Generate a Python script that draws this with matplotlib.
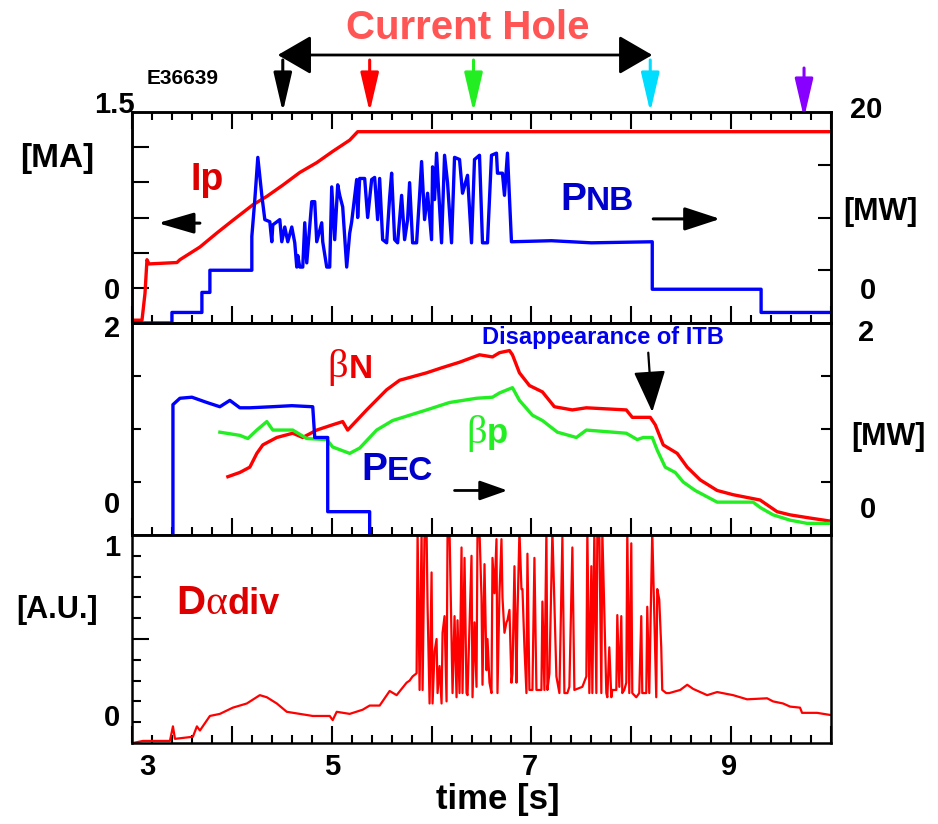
import matplotlib.pyplot as plt
from matplotlib.ticker import MultipleLocator, FixedLocator
from matplotlib.offsetbox import TextArea, HPacker, AnnotationBbox

plt.rcParams['font.family'] = ['Liberation Sans', 'DejaVu Sans']
plt.rcParams['font.weight'] = 'bold'

# ---- data (time in s) ----
ip_t = [3.00, 3.10, 3.13, 3.15, 3.17, 3.45, 3.48, 3.68, 3.85, 4.01, 4.21, 4.35,
        4.51, 4.68, 4.85, 5.01, 5.18, 5.26, 10.0]
ip_v = [0.02, 0.02, 0.21, 0.45, 0.42, 0.43, 0.45, 0.54, 0.64, 0.73, 0.84, 0.90,
        0.98, 1.07, 1.14, 1.22, 1.30, 1.36, 1.36]

pnb_t = [3.00, 3.40, 3.40, 3.70, 3.70, 3.78, 3.78, 4.20, 4.20, 4.23, 4.26, 4.30,
         4.33, 4.38, 4.40, 4.41, 4.48, 4.50, 4.53, 4.56, 4.60, 4.63, 4.65, 4.66,
         4.68, 4.71, 4.73, 4.75, 4.80, 4.83, 4.85, 4.90, 4.91, 4.95, 4.98, 5.00,
         5.03, 5.06, 5.08, 5.11, 5.15, 5.18, 5.20, 5.25, 5.26, 5.28, 5.33, 5.36,
         5.40, 5.43, 5.46, 5.48, 5.51, 5.55, 5.58, 5.60, 5.63, 5.66, 5.70, 5.73,
         5.76, 5.78, 5.81, 5.85, 5.88, 5.90, 5.93, 5.96, 6.00, 6.01, 6.03, 6.05,
         6.10, 6.13, 6.16, 6.20, 6.23, 6.28, 6.31, 6.36, 6.40, 6.43, 6.48, 6.51,
         6.56, 6.60, 6.65, 6.66, 6.71, 6.73, 6.76, 6.80, 7.20, 7.60, 8.21, 8.21,
         9.30, 9.30, 10.0]
pnb_v = [0.0, 0.0, 1.0, 1.0, 2.9, 2.9, 5.0, 5.0, 8.2, 11.7, 15.7, 12.1,
         9.8, 9.6, 7.7, 9.3, 9.8, 7.7, 9.1, 7.7, 9.1, 7.6, 5.3, 6.4,
         5.3, 5.3, 9.5, 5.7, 11.5, 11.5, 7.7, 9.5, 7.7, 5.3, 5.3, 12.9,
         7.9, 13.1, 12.1, 11.0, 5.3, 8.5, 9.6, 13.6, 10.0, 13.7, 13.7, 10.0,
         13.6, 13.8, 9.8, 13.7, 7.9, 7.6, 11.9, 14.2, 7.9, 7.6, 12.1, 7.9,
         9.8, 13.3, 7.6, 7.6, 12.1, 15.3, 9.8, 12.3, 7.9, 14.8, 11.7, 16.1,
         7.6, 15.9, 13.3, 7.6, 15.7, 15.5, 12.3, 14.0, 7.6, 15.5, 15.9, 7.6,
         7.6, 15.9, 16.1, 14.2, 14.2, 12.1, 16.1, 7.7, 7.8, 7.6, 7.7, 3.2,
         3.2, 1.0, 1.0]

pec_t = [3.41, 3.41, 3.48, 3.60, 3.75, 3.88, 3.98, 4.08, 4.18, 4.40, 4.60, 4.81,
         4.83, 4.96, 4.96, 5.38, 5.38]
pec_v = [0.0, 1.23, 1.29, 1.30, 1.25, 1.21, 1.27, 1.20, 1.20, 1.21, 1.22, 1.21,
         0.92, 0.92, 0.22, 0.22, 0.0]

betan_t = [3.96, 4.08, 4.18, 4.25, 4.31, 4.45, 4.61, 4.71, 4.85, 5.01, 5.11, 5.16,
           5.35, 5.55, 5.68, 5.95, 6.11, 6.28, 6.48, 6.61, 6.68, 6.78, 6.81, 6.88,
           6.98, 7.11, 7.23, 7.41, 7.55, 7.95, 8.01, 8.19, 8.24, 8.32, 8.46, 8.56,
           8.69, 8.86, 9.02, 9.29, 9.46, 9.59, 9.79, 10.0]
betan_v = [0.55, 0.59, 0.64, 0.77, 0.85, 0.92, 0.96, 0.92, 0.99, 1.04, 1.07, 0.99,
           1.18, 1.37, 1.46, 1.53, 1.58, 1.63, 1.70, 1.68, 1.72, 1.74, 1.70, 1.53,
           1.41, 1.35, 1.21, 1.18, 1.20, 1.18, 1.11, 1.11, 1.04, 0.85, 0.77, 0.64,
           0.52, 0.42, 0.38, 0.33, 0.22, 0.19, 0.16, 0.13]

betap_t = [3.88, 4.08, 4.16, 4.25, 4.35, 4.41, 4.61, 4.75, 4.95, 5.01, 5.18, 5.28,
           5.45, 5.61, 5.95, 6.18, 6.45, 6.61, 6.68, 6.81, 6.88, 7.01, 7.11, 7.26,
           7.45, 7.55, 7.95, 8.06, 8.12, 8.21, 8.26, 8.34, 8.44, 8.52, 8.64, 8.86,
           9.22, 9.29, 9.42, 9.59, 9.76, 10.0]
betap_v = [0.97, 0.94, 0.91, 0.99, 1.07, 0.99, 0.99, 0.91, 0.90, 0.83, 0.77, 0.82,
           0.99, 1.08, 1.18, 1.25, 1.29, 1.30, 1.34, 1.39, 1.27, 1.13, 1.08, 0.97,
           0.92, 0.99, 0.96, 0.90, 0.92, 0.92, 0.80, 0.64, 0.59, 0.50, 0.42, 0.31,
           0.31, 0.26, 0.19, 0.14, 0.11, 0.11]

da_t = [3.01, 3.11, 3.38, 3.41, 3.43, 3.61, 3.65, 3.68, 3.78, 3.88, 4.01, 4.15,
        4.28, 4.35, 4.45, 4.55, 4.68, 4.81, 4.98, 5.01, 5.05, 5.18, 5.31, 5.38,
        5.48, 5.58, 5.65, 5.75,
        5.78, 5.81, 5.85, 5.86, 5.88, 5.90, 5.91, 5.93, 5.95, 5.96, 5.98, 6.00,
        6.01, 6.03, 6.05, 6.06, 6.08, 6.10, 6.11, 6.13, 6.15, 6.16, 6.18, 6.20,
        6.21, 6.23, 6.25, 6.26, 6.28, 6.30, 6.31, 6.33, 6.35, 6.36, 6.40, 6.41,
        6.43, 6.45, 6.46, 6.48, 6.50, 6.51, 6.53, 6.55, 6.56, 6.58, 6.60, 6.61,
        6.63, 6.65, 6.66, 6.68, 6.70, 6.71, 6.73, 6.75, 6.76, 6.78, 6.80, 6.81,
        6.83, 6.85, 6.86, 6.88, 6.90, 6.91, 6.93, 6.95, 6.96, 6.98, 7.01, 7.03,
        7.05, 7.10, 7.11, 7.13, 7.15, 7.16, 7.18, 7.21, 7.25, 7.28, 7.31, 7.33,
        7.36, 7.38, 7.41, 7.43, 7.51, 7.55, 7.56, 7.58, 7.60, 7.61, 7.63, 7.65,
        7.66, 7.68, 7.70, 7.71, 7.75, 7.76, 7.78, 7.80, 7.81, 7.85, 7.86, 7.88,
        7.90, 7.91, 7.93, 7.95, 7.96, 7.98, 8.00, 8.01, 8.05, 8.08, 8.10, 8.11,
        8.15, 8.16, 8.18, 8.21, 8.25, 8.26, 8.28, 8.30, 8.31, 8.35,
        8.38, 8.49, 8.56, 8.62, 8.69, 8.76, 8.86, 9.02, 9.16, 9.36, 9.42, 9.52,
        9.59, 9.69, 9.71, 9.86, 9.99]
da_v = [0.00, 0.01, 0.01, 0.08, 0.02, 0.03, 0.08, 0.06, 0.13, 0.14, 0.17, 0.19,
        0.23, 0.22, 0.19, 0.15, 0.14, 0.13, 0.13, 0.11, 0.15, 0.14, 0.16, 0.18,
        0.18, 0.25, 0.23, 0.29,
        0.30, 0.32, 0.335, 1.02, 0.255, 1.02, 0.255, 1.02, 1.02, 0.655, 0.19, 0.82,
        0.19, 0.44, 0.50, 0.24, 0.37, 0.19, 0.53, 0.61, 0.20, 1.02, 1.02, 0.50,
        0.24, 0.61, 0.22, 0.59, 0.24, 0.94, 0.24, 0.89, 0.24, 0.23, 0.90, 0.22,
        0.58, 0.27, 1.02, 1.02, 0.70, 0.28, 0.86, 0.35, 0.50, 0.29, 0.24, 0.89,
        0.72, 0.98, 0.24, 0.72, 0.98, 0.70, 0.53, 0.58, 0.59, 0.64, 0.29, 0.335,
        0.85, 0.29, 0.61, 1.02, 0.74, 0.74, 0.46, 0.24, 0.91, 0.255, 0.255, 0.89,
        0.255, 0.255, 0.68, 0.255, 1.02, 0.255, 0.335, 1.02, 0.32, 0.24, 0.99, 0.24,
        0.24, 0.27, 0.94, 0.255, 0.27, 0.32, 1.02, 0.24, 0.85, 0.24, 1.02, 0.24,
        1.02, 1.02, 0.24, 1.02, 0.24, 0.22, 0.46, 0.22, 0.255, 0.255, 0.615, 0.27,
        0.61, 0.24, 0.255, 0.29, 1.02, 0.24, 0.96, 0.24, 0.22, 0.24, 0.61, 0.24,
        0.24, 0.655, 0.24, 1.02, 0.22, 0.74, 0.69, 0.46, 0.255, 0.24,
        0.24, 0.255, 0.28, 0.26, 0.245, 0.23, 0.245, 0.23, 0.21, 0.215, 0.20, 0.19,
        0.175, 0.17, 0.145, 0.145, 0.135]

marker_t = [4.51, 5.38, 6.42, 8.19, 9.73]
marker_c = ['black', '#ff0000', '#22ee22', '#00ddff', '#8800ff']
hole_t = [4.46, 8.21]

# ---- layout (pixel geometry of the original) ----
FW, FH = 938, 824
fig = plt.figure(figsize=(FW / 100, FH / 100), dpi=100)


def P(px, py):
    return px / FW, 1 - py / FH


x0, x1 = 132, 831
axT = fig.add_axes([x0 / FW, 1 - 323 / FH, (x1 - x0) / FW, (323 - 112) / FH])
axM = fig.add_axes([x0 / FW, 1 - 535 / FH, (x1 - x0) / FW, (535 - 323) / FH])
axB = fig.add_axes([x0 / FW, 1 - 743 / FH, (x1 - x0) / FW, (743 - 535) / FH])
axTR = axT.twinx()
axMR = axM.twinx()

RED, BLUE, GREEN = '#ff0000', '#0000ff', '#22ee22'

axT.plot(ip_t, ip_v, color=RED, lw=2.4)
axTR.plot(pnb_t, pnb_v, color=BLUE, lw=2.4)
axM.plot(betan_t, betan_v, color=RED, lw=2.4)
axM.plot(betap_t, betap_v, color=GREEN, lw=2.4)
axMR.plot(pec_t, pec_v, color=BLUE, lw=2.4)
axB.plot(da_t, da_v, color=RED, lw=1.6)

axT.set_ylim(0, 1.5)
axTR.set_ylim(0, 20)
axM.set_ylim(0, 2)
axMR.set_ylim(0, 2)
axB.set_ylim(0, 1)

for ax in (axT, axM, axB, axTR, axMR):
    ax.set_xlim(3, 10)
    for s in ax.spines.values():
        s.set_linewidth(1.8)
    ax.xaxis.set_major_locator(MultipleLocator(1))
    ax.xaxis.set_minor_locator(MultipleLocator(0.2))
    ax.tick_params(which='both', direction='in', width=1.5, labelbottom=False,
                   labelleft=False, labelright=False, labeltop=False)
    ax.tick_params(which='major', length=12)
    ax.tick_params(which='minor', length=6)

axT.tick_params(axis='x', which='both', top=True, bottom=True)
axM.tick_params(axis='x', which='both', top=False, bottom=True)
axB.tick_params(axis='x', which='both', top=False, bottom=True)
axTR.tick_params(axis='x', which='both', top=False, bottom=False)
axMR.tick_params(axis='x', which='both', top=False, bottom=False)

axT.yaxis.set_major_locator(FixedLocator([0.25, 0.5, 0.75, 1.0, 1.25]))
axT.yaxis.set_minor_locator(FixedLocator([]))
axT.tick_params(axis='y', which='major', left=True, right=False, length=12.5)
axTR.yaxis.set_major_locator(FixedLocator([5, 10, 15]))
axTR.yaxis.set_minor_locator(FixedLocator([]))
axTR.tick_params(axis='y', which='major', length=9.5)

axM.yaxis.set_major_locator(FixedLocator([0.5, 1.0, 1.5]))
axM.yaxis.set_minor_locator(FixedLocator([]))
axM.tick_params(axis='y', which='major', left=True, right=False, length=6.5)
axMR.yaxis.set_major_locator(FixedLocator([0.5, 1.0, 1.5]))
axMR.yaxis.set_minor_locator(FixedLocator([]))
axMR.tick_params(axis='y', which='major', length=7)

axB.yaxis.set_major_locator(FixedLocator([0.5]))
axB.yaxis.set_minor_locator(FixedLocator([0.1, 0.2, 0.3, 0.4, 0.6, 0.7, 0.8, 0.9]))
axB.tick_params(axis='y', which='major', left=True, right=False, length=12.5)
axB.tick_params(axis='y', which='minor', left=True, right=False, length=6.5)

# ---- tick-ish labels (placed as in the original, offset from ticks) ----
TK = 21


def ftxt(px, py, s, size=TK, color='black', ha='center'):
    x, y = P(px, py)
    fig.text(x, y, s, fontsize=size, color=color, ha=ha, va='center',
             fontweight='bold')


ftxt(114, 105, '1.5')
ftxt(112, 291, '0')
ftxt(866, 110, '20')
ftxt(868, 291, '0')
ftxt(112, 329, '2')
ftxt(112, 505, '0')
ftxt(866, 333, '2')
ftxt(868, 510, '0')
ftxt(112, 548, '1')
ftxt(112, 718, '0')
for t_lab, px in [('3', 147), ('5', 332), ('7', 530), ('9', 729)]:
    ftxt(px, 767, t_lab)
ftxt(498, 800, 'time [s]', size=25)
ftxt(57, 158, '[MA]', size=24)
ftxt(880, 212, '[MW]', size=22)
ftxt(888, 437, '[MW]', size=22)
ftxt(57, 610, '[A.U.]', size=22)
ftxt(183, 78, 'E36639', size=15)
ftxt(468, 28, 'Current Hole', size=29, color='#ff5555')
ftxt(603, 338, 'Disappearance of ITB', size=17, color='#0000ee')


def combo(px, py, parts, color):
    boxes = []
    for s, size, fam in parts:
        fw = 'normal' if fam == 'serif' else 'bold'
        ff = ['Liberation Serif', 'DejaVu Serif'] if fam == 'serif' else ['Liberation Sans', 'DejaVu Sans']
        boxes.append(TextArea(s, textprops=dict(color=color, fontsize=size,
                                                family=ff, fontweight=fw)))
    pack = HPacker(children=boxes, align='baseline', pad=0, sep=0)
    ab = AnnotationBbox(pack, P(px, py), xycoords='figure fraction',
                        frameon=False, box_alignment=(0.5, 0.5), annotation_clip=False)
    fig.add_artist(ab)


combo(207, 180, [('Ip', 27, 'sans')], '#dd0000')
combo(597, 200, [('P', 28, 'sans'), ('NB', 24, 'sans')], '#0000cc')
combo(350, 368, [('β', 29, 'serif'), ('N', 24, 'sans')], '#ee0000')
combo(487, 433, [('β', 29, 'serif'), ('p', 25, 'sans')], '#22ee22')
combo(397, 470, [('P', 28, 'sans'), ('EC', 24, 'sans')], '#0000cc')
combo(228, 603, [('D', 29, 'sans'), ('α', 30, 'serif'), ('div', 26, 'sans')], '#dd0000')


# ---- arrows ----
def arrow(ax, xy, xytext, xyc, color='black', lw=1.8, ms=20, hl=1.0, hw=0.3, style='-|>'):
    ax.annotate('', xy=xy, xytext=xytext, xycoords=xyc, textcoords=xyc,
                annotation_clip=False,
                arrowprops=dict(arrowstyle=f'{style},head_length={hl},head_width={hw}',
                                color=color, lw=lw, mutation_scale=ms,
                                shrinkA=0, shrinkB=0))


figy = ('data', 'figure fraction')
for t, c in zip(marker_t, marker_c):
    top = 68 if c == '#8800ff' else 60
    tip = 118 if c == '#8800ff' else 112
    arrow(axT, (t, P(0, tip)[1]), (t, P(0, top)[1]), figy, color=c, lw=2.2,
          ms=20, hl=1.2, hw=0.28)

arrow(axT, (hole_t[0], P(0, 55)[1]), (hole_t[1], P(0, 55)[1]), figy, lw=2,
      ms=22, hl=0.95, hw=0.55, style='<|-|>')

arrow(axT, (3.26, 0.71), (3.68, 0.71), 'data', lw=2.2, ms=20, hl=1.1, hw=0.32)
arrow(axT, (8.89, 0.74), (8.22, 0.74), 'data', lw=2.2, ms=20, hl=1.1, hw=0.36)
arrow(axM, (6.76, 0.42), (6.23, 0.42), 'data', lw=2.0, ms=20, hl=0.85, hw=0.3)
arrow(axM, (8.21, 1.16), (8.17, 1.72), 'data', lw=1.6, ms=20, hl=1.3, hw=0.5)

fig.savefig('out.png', dpi=100)
